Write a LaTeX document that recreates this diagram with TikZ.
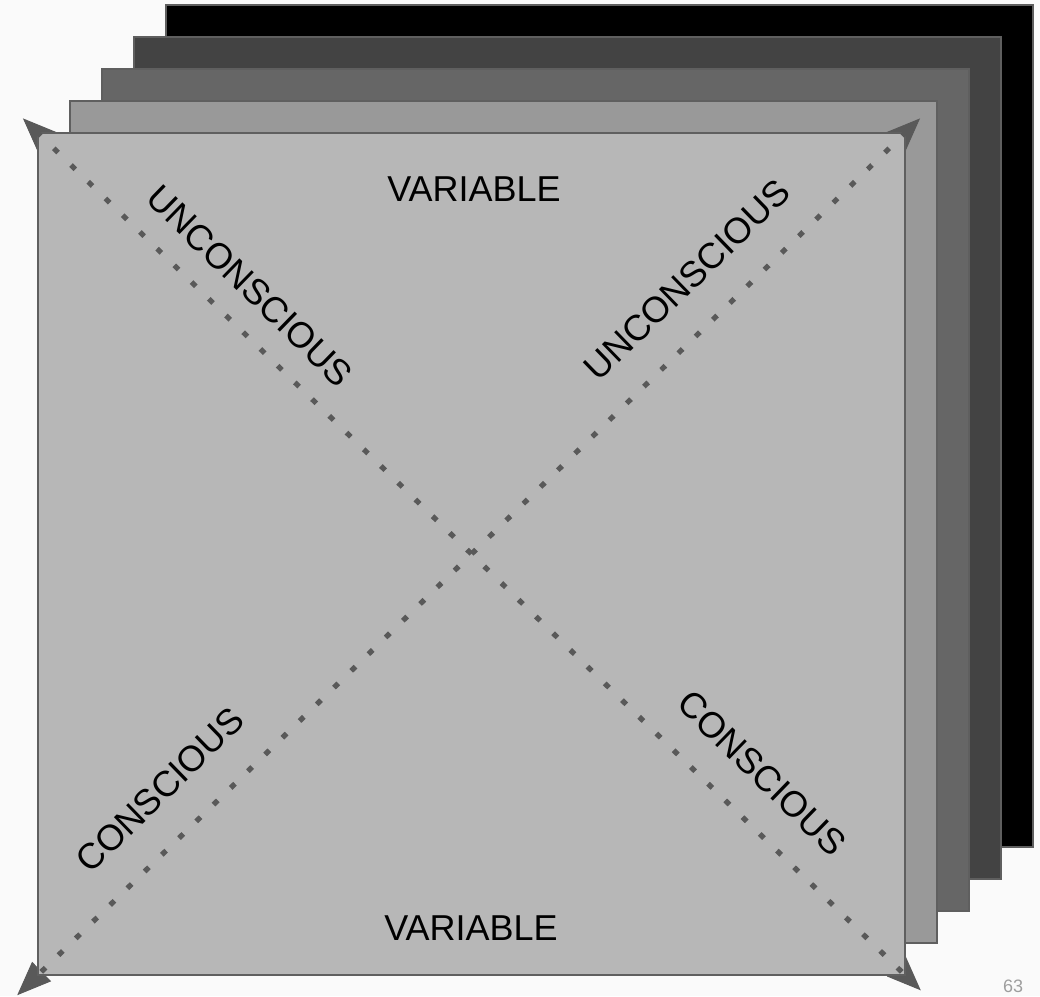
\documentclass[tikz,border=0pt]{standalone}
\usepackage{fontspec}
\setmainfont{Liberation Sans}
\usetikzlibrary{arrows.meta, calc}
\definecolor{cPage}{HTML}{FAFAFA}
\definecolor{cEdge}{HTML}{5F5F5F}
\definecolor{cDot}{HTML}{595959}
\definecolor{cLayerA}{HTML}{B7B7B7}
\definecolor{cLayerB}{HTML}{999999}
\definecolor{cLayerC}{HTML}{666666}
\definecolor{cLayerD}{HTML}{434343}
\definecolor{cLayerE}{HTML}{000000}
\definecolor{cNum}{HTML}{9E9E9E}
\tikzset{
	layer/.style    ={draw=cEdge, line width=1.6pt},
	dotline/.style  ={cDot, line width=5.2pt, line cap=rect, dash pattern=on 0.8pt off 23.2pt, dash phase=23.4pt},
	cornertip/.style={{Triangle[length=34pt, width=27pt]}-{Triangle[length=34pt, width=27pt]}, cDot, line width=1pt},
	axislabel/.style={font=\fontsize{36}{40}\selectfont, text=black, inner sep=0pt},
}
\begin{document}
\begin{tikzpicture}[x=1pt, y=-1pt]
	\useasboundingbox (0,0) rectangle (1040,996);
	\fill[cPage] (0,0) rectangle (1040,996);
	% corners of the front card
	\coordinate (tl) at (38,133);
	\coordinate (tr) at (905,133);
	\coordinate (bl) at (38,975);
	\coordinate (br) at (905,975);
	% cards stacked behind
	\foreach \k/\col in {4/cLayerE, 3/cLayerD, 2/cLayerC, 1/cLayerB}
		\filldraw[layer, fill=\col] ($(tl)+(32*\k,-32*\k)$) rectangle ($(br)+(32*\k,-32*\k)$);
	\draw[cornertip] ($(tl)!-21pt!(br)$) -- ($(br)!-22pt!(tl)$);
	\draw[cornertip] ($(bl)!-29pt!(tr)$) -- ($(tr)!-21pt!(bl)$);
	\filldraw[layer, fill=cLayerA] (tl) rectangle (br);
	\draw[dotline] (tl) -- (br);
	\draw[dotline] (tr) -- (bl);
	\node[axislabel] (varTop) at (474,189) {VARIABLE};
	\node[axislabel] (varBot) at (471,928) {VARIABLE};
	\node[axislabel, rotate=-44.17] (unconL) at (250,286) {UNCONSCIOUS};
	\node[axislabel, rotate=44.17] (unconR) at (687,280) {UNCONSCIOUS};
	\node[axislabel, rotate=44.17] (consL) at (160,790) {CONSCIOUS};
	\node[axislabel, rotate=-44.17] (consR) at (762,773) {CONSCIOUS};
	\node[font=\fontsize{18}{20}\selectfont, text=cNum] (pageNo) at (1013,986) {63};
\end{tikzpicture}
\end{document}
